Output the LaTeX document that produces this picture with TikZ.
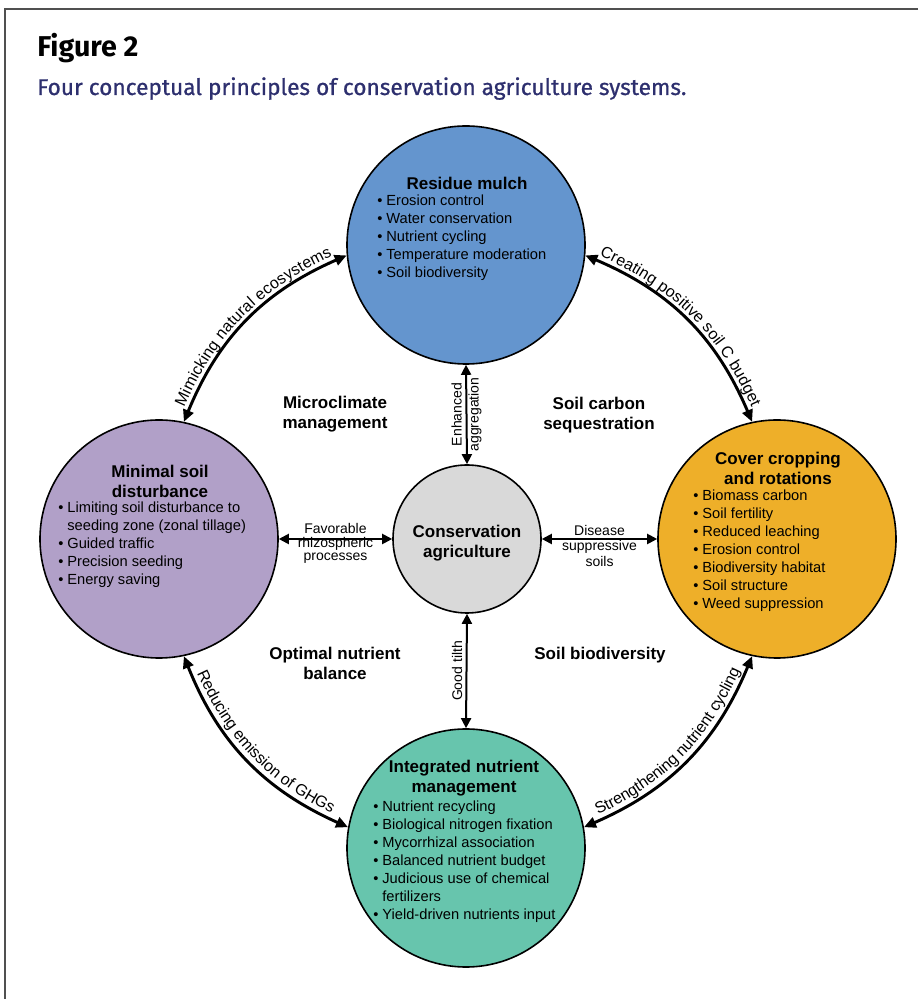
\documentclass[tikz,border=0pt]{standalone}
\usepackage{fontspec}
\setmainfont{Liberation Sans}
\newfontfamily\figfont{Fira Sans}
\newfontfamily\capfont[FakeBold=0.8]{Fira Sans}
\usetikzlibrary{arrows.meta}
\usetikzlibrary{decorations.text}
\definecolor{mulch-blue}{RGB}{100,149,206}
\definecolor{soil-purple}{RGB}{177,160,200}
\definecolor{cover-orange}{RGB}{238,175,41}
\definecolor{nutrient-teal}{RGB}{103,197,173}
\definecolor{center-gray}{RGB}{217,217,217}
\definecolor{title-navy}{RGB}{45,47,110}
\definecolor{frame-gray}{RGB}{80,80,80}
\newcommand{\headfont}{\fontsize{12.75}{15}\selectfont\bfseries}
\newcommand{\listfont}{\fontsize{11}{13.5}\selectfont}
\newcommand{\arcfont}{\fontsize{12}{14}\selectfont}

\begin{document}
\begin{tikzpicture}[x=0.75pt, y=0.75pt,
    principle/.style={circle, draw=black, line width=1.2pt, minimum size=178.5pt, inner sep=0pt},
    head/.style={align=center, font=\headfont, inner sep=0pt},
    items/.style={anchor=base west, font=\listfont, inner sep=0pt},
    lbl/.style={align=center, font=\fontsize{10.5}{10}\selectfont, inner sep=0pt},
    link/.style={line width=1.5pt, {Triangle[length=7.5pt,width=7.5pt]}-{Triangle[length=7.5pt,width=7.5pt]}},
    ring/.style={line width=2.2pt, {Triangle[length=9pt,width=8pt]}-{Triangle[length=9pt,width=8pt]}},
    ringtext/.style={decorate, decoration={text along path, text align=center, raise=4pt, text={|\arcfont|#1}}}]
\useasboundingbox (0,0) rectangle (918,999);
\draw[frame-gray, line width=1.1pt] (918,990) -- (5,990) -- (5,0);

% title
\node[anchor=base west, inner sep=0pt, font=\figfont\fontsize{21.5}{24}\selectfont\bfseries] (fig) at (37,942) {Figure 2};
\node[anchor=base west, inner sep=0pt, text=title-navy, font=\capfont\fontsize{17}{20}\selectfont] (caption) at (37,904) {Four conceptual principles of conservation agriculture systems.};

% the five circles
\node[principle, fill=mulch-blue] (res) at (466,754) {};
\node[principle, fill=soil-purple] (min) at (159,460) {};
\node[principle, fill=cover-orange] (cov) at (777,460) {};
\node[principle, fill=nutrient-teal] (int) at (466,151) {};
\node[circle, draw=black, line width=1.2pt, minimum size=111pt, fill=center-gray] (ca) at (467,460) {};

\node[head] (ca-h) at (467,456) {Conservation\\agriculture};

\node[head] (res-h) at (467,816) {Residue mulch};
\node[items] (res-l) at (377,793) {\begin{tabular}[t]{@{}l@{\hspace{3pt}}l@{}}
\textbullet & Erosion control\\
\textbullet & Water conservation\\
\textbullet & Nutrient cycling\\
\textbullet & Temperature moderation\\
\textbullet & Soil biodiversity
\end{tabular}};

\node[head] (min-h) at (160,517.5) {Minimal soil\\disturbance};
\node[items] (min-l) at (58,486) {\begin{tabular}[t]{@{}l@{\hspace{3pt}}l@{}}
\textbullet & Limiting soil disturbance to\\
 & seeding zone (zonal tillage)\\
\textbullet & Guided traffic\\
\textbullet & Precision seeding\\
\textbullet & Energy saving
\end{tabular}};

\node[head] (cov-h) at (778,531) {Cover cropping\\and rotations};
\node[items] (cov-l) at (693,498) {\begin{tabular}[t]{@{}l@{\hspace{3pt}}l@{}}
\textbullet & Biomass carbon\\
\textbullet & Soil fertility\\
\textbullet & Reduced leaching\\
\textbullet & Erosion control\\
\textbullet & Biodiversity habitat\\
\textbullet & Soil structure\\
\textbullet & Weed suppression
\end{tabular}};

\node[head] (int-h) at (464,221) {Integrated nutrient\\management};
\node[items] (int-l) at (373,187) {\begin{tabular}[t]{@{}l@{\hspace{3pt}}l@{}}
\textbullet & Nutrient recycling\\
\textbullet & Biological nitrogen fixation\\
\textbullet & Mycorrhizal association\\
\textbullet & Balanced nutrient budget\\
\textbullet & Judicious use of chemical\\
 & fertilizers\\
\textbullet & Yield-driven nutrients input
\end{tabular}};

% quadrant labels
\node[head] (q-micro) at (335,584.5) {Microclimate\\management};
\node[head] (q-carbon) at (599,584) {Soil carbon\\sequestration};
\node[head] (q-balance) at (335,336) {Optimal nutrient\\balance};
\node[head] (q-bio) at (600,344) {Soil biodiversity};

% links to the centre
\draw[link] (ca.north) -- (res.south) node[midway, lbl, rotate=90, font=\fontsize{10.5}{12.75}\selectfont] {Enhanced\\aggregation};
\draw[link] (ca.south) -- (int.north) node[midway, lbl, rotate=90, anchor=south, inner sep=2.5pt] {Good tilth};
\draw[link] (ca.west) -- (min.east) node[midway, lbl, yshift=-3.4pt] {Favorable\\rhizospheric\\processes};
\draw[link] (ca.east) -- (cov.west) node[midway, lbl, yshift=-5.2pt, font=\fontsize{10.5}{11.6}\selectfont] {Disease\\suppressive\\soils};

% outer ring
\draw[ring] (min.78) to[bend left=22] (res.185);
\path[ringtext={Mimicking natural ecosystems}] (min.78) to[bend left=22] (res.185);
\draw[ring] (res.355) to[bend left=22] (cov.102);
\path[ringtext={Creating positive soil C budget}] (res.355) to[bend left=22] (cov.102);
\draw[ring] (min.282) to[bend right=22] (int.170);
\path[ringtext={Reducing emission of GHGs}] (min.282) to[bend right=22] (int.170);
\draw[ring] (int.10) to[bend right=22] (cov.258);
\path[ringtext={Strengthening nutrient cycling}] (int.10) to[bend right=22] (cov.258);
\end{tikzpicture}
\end{document}
